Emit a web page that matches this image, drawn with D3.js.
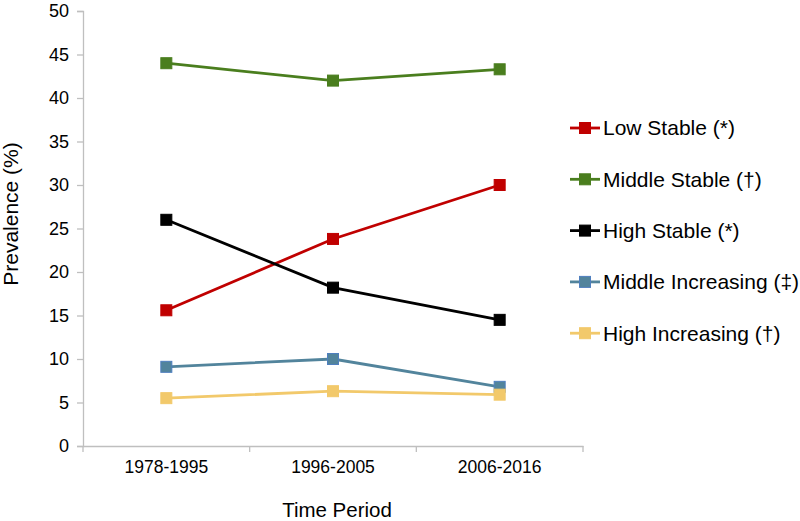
<!DOCTYPE html>
<html><head><meta charset="utf-8">
<script src="https://cdn.jsdelivr.net/npm/d3@7"></script>
<style>body{margin:0;background:#fff}svg{display:block;font-family:"Liberation Sans",Arial,sans-serif}</style>
</head><body><svg id="c" width="800" height="521"></svg>
<script>
const categories = ["1978-1995", "1996-2005", "2006-2016"];
const seriesNames = ["Low Stable (*)", "Middle Stable (†)", "High Stable (*)", "Middle Increasing (‡)", "High Increasing (†)"];
const lowStable = [15.6, 23.8, 30.0];
const middleStable = [44.0, 42.0, 43.3];
const highStable = [26.0, 18.2, 14.5];
const middleIncreasing = [9.1, 10.0, 6.8];
const highIncreasing = [5.5, 6.3, 5.9];
const yTicks = [0, 5, 10, 15, 20, 25, 30, 35, 40, 45, 50];
const colors = ["#C00000", "#4A7E1E", "#000000", "#52849C", "#F2C96B"];
const strokes = ["#C00000", "#4A7E1E", "#000000", "#4F7FBF", "#F2C96B"];
const seriesValues = [lowStable, middleStable, highStable, middleIncreasing, highIncreasing];

const svg = d3.select("#c");
const x0 = 83, x1 = 583, yTop = 11, yBot = 446;
const x = d3.scaleBand().domain(categories).range([x0, x1]);
const y = d3.scaleLinear().domain([0, 50]).range([yBot, yTop]);

// y axis
const ya = svg.append("g").attr("transform", `translate(${x0},0)`)
  .call(d3.axisLeft(y).tickValues(yTicks).tickSize(6).tickPadding(8));
ya.select(".domain").attr("stroke", "#BFBFBF").attr("stroke-width", 1.3);
ya.selectAll(".tick line").attr("stroke", "#BFBFBF").attr("stroke-width", 1.3);
ya.selectAll("text").attr("font-size", 18).attr("fill", "#000").attr("font-family", "Liberation Sans, Arial, sans-serif");

// x axis
const xa = svg.append("g").attr("transform", `translate(0,${yBot})`)
  .call(d3.axisBottom(x).tickSize(0).tickPadding(15));
xa.select(".domain").attr("stroke", "#BFBFBF").attr("stroke-width", 1.3);
xa.selectAll("text").attr("font-size", 17.5).attr("fill", "#000").attr("font-family", "Liberation Sans, Arial, sans-serif");
const bounds = [x0].concat(categories.map(c => x(c) + x.bandwidth()));
xa.selectAll(".bt").data(bounds).enter().append("line")
  .attr("x1", d => d).attr("x2", d => d).attr("y1", 0).attr("y2", 6)
  .attr("stroke", "#BFBFBF").attr("stroke-width", 1.3);

// titles
svg.append("text").attr("x", 337).attr("y", 517).attr("text-anchor", "middle")
  .attr("font-size", 20.5).text("Time Period");
svg.append("text").attr("transform", `translate(18,214) rotate(-90)`)
  .attr("text-anchor", "middle").attr("font-size", 21).text("Prevalence (%)");

// lines
const line = d3.line().x((d, i) => x(categories[i]) + x.bandwidth() / 2).y(d => y(d));
const ms = 11;
seriesValues.forEach((vals, s) => {
  const g = svg.append("g");
  g.append("path").datum(vals).attr("d", line).attr("fill", "none")
    .attr("stroke", colors[s]).attr("stroke-width", 2.8);
  g.selectAll("rect").data(vals).enter().append("rect")
    .attr("x", (d, i) => x(categories[i]) + x.bandwidth() / 2 - ms / 2)
    .attr("y", d => y(d) - ms / 2).attr("width", ms).attr("height", ms)
    .attr("fill", colors[s]).attr("stroke", strokes[s]).attr("stroke-width", 1);
});

// legend
const lg = svg.append("g");
seriesNames.forEach((n, i) => {
  const cy = 128 + i * 51.3;
  lg.append("line").attr("x1", 570).attr("x2", 600).attr("y1", cy).attr("y2", cy)
    .attr("stroke", colors[i]).attr("stroke-width", 2.8);
  lg.append("rect").attr("x", 585 - 5.5).attr("y", cy - 5.5).attr("width", 11).attr("height", 11)
    .attr("fill", colors[i]).attr("stroke", strokes[i]).attr("stroke-width", 1);
  lg.append("text").attr("x", 603).attr("y", cy).attr("dy", "0.35em").attr("font-size", 21).text(n);
});
</script></body></html>
